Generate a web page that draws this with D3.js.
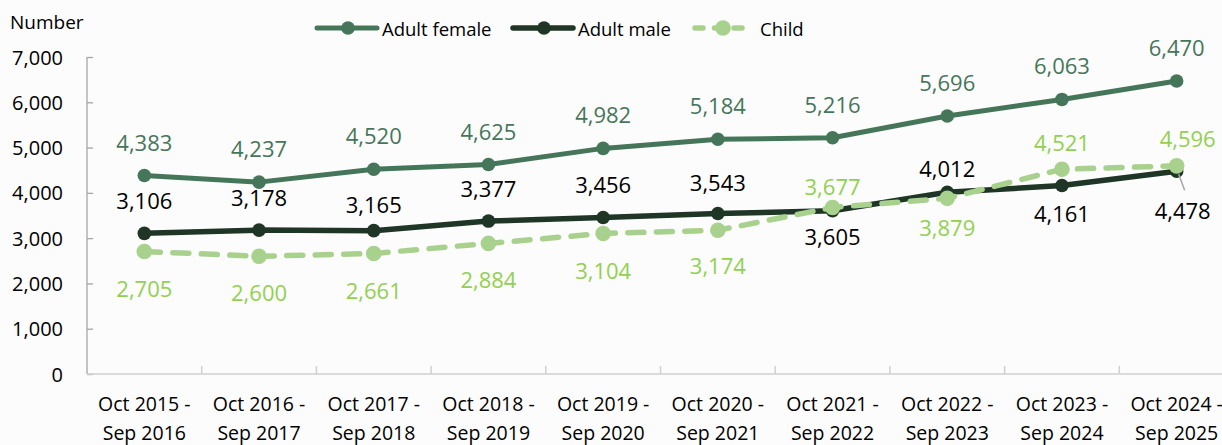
<!DOCTYPE html>
<html>
<head>
<meta charset="utf-8">
<script src="https://cdn.jsdelivr.net/npm/d3@7"></script>
<style>
  body { margin: 0; background: #fcfcfc; }
  svg { display: block; font-family: "Open Sans", sans-serif; }
</style>
</head>
<body>
<div id="chart"></div>
<script>
// data
var periods = ["Oct 2015 - Sep 2016", "Oct 2016 - Sep 2017", "Oct 2017 - Sep 2018",
    "Oct 2018 - Sep 2019", "Oct 2019 - Sep 2020", "Oct 2020 - Sep 2021",
    "Oct 2021 - Sep 2022", "Oct 2022 - Sep 2023", "Oct 2023 - Sep 2024",
    "Oct 2024 - Sep 2025"]
var adultFemale = [4383, 4237, 4520, 4625, 4982, 5184, 5216, 5696, 6063, 6470]
var adultMale = [3106, 3178, 3165, 3377, 3456, 3543, 3605, 4012, 4161, 4478]
var child = [2705, 2600, 2661, 2884, 3104, 3174, 3677, 3879, 4521, 4596]
var yTicks = [0, 1000, 2000, 3000, 4000, 5000, 6000, 7000]

// label placement (vertical offset of label centre from the point)
var femaleDy = [-34, -34, -34, -34, -34, -34, -34, -34, -34, -34]
var maleDy = [-33, -33, -27, -33, -33, -32, 25, -24, 27, 39]
var childDy = [36, 36, 37, 36, 37, 35, -21, 29, -27, -28]

var W = 1222, H = 445
var svg = d3.select("#chart").append("svg")
    .attr("width", W).attr("height", H)

var x = d3.scaleBand().domain(periods).range([87, 87 + 10 * 114.7])
var y = d3.scaleLinear().domain([0, 7000]).range([374, 57])
var cx = function (d, i) { return x(periods[i]) + x.bandwidth() / 2 }

// y axis
var yAxis = svg.append("g").attr("transform", "translate(87,0)")
    .call(d3.axisRight(y).tickValues(yTicks).tickSize(6).tickFormat(""))
yAxis.select(".domain").attr("stroke", "#a6a6a6").attr("stroke-width", 1.3)
    .attr("d", "M0," + y(7000) + "V" + y(0))
yAxis.selectAll(".tick line").attr("stroke", "#a6a6a6").attr("stroke-width", 1.3)

svg.append("g").selectAll("text").data(yTicks).enter().append("text")
    .attr("x", 63).attr("y", function (d) { return y(d) })
    .attr("text-anchor", "end").attr("dominant-baseline", "central")
    .attr("font-size", 20).attr("fill", "#000")
    .text(d3.format(","))

svg.append("text").attr("x", 10).attr("y", 22)
    .attr("dominant-baseline", "central")
    .attr("font-size", 19).attr("fill", "#000").text("Number")

// x axis
var xg = svg.append("g")
xg.append("line").attr("x1", 87).attr("x2", W).attr("y1", 374).attr("y2", 374)
    .attr("stroke", "#d0d0d0").attr("stroke-width", 1.5)
xg.selectAll(".tk").data(periods).enter().append("line")
    .attr("x1", function (d) { return x(d) + x.bandwidth() })
    .attr("x2", function (d) { return x(d) + x.bandwidth() })
    .attr("y1", 374).attr("y2", 366)
    .attr("stroke", "#d0d0d0").attr("stroke-width", 1.5)
var xl = xg.selectAll(".lab").data(periods).enter().append("text")
    .attr("text-anchor", "middle").attr("font-size", 19.5).attr("fill", "#000")
    .attr("transform", function (d) { return "translate(" + (x(d) + x.bandwidth() / 2) + ",0)" })
xl.append("tspan").attr("x", 0).attr("y", 411).text(function (d) { return d.split(" - ")[0] + " -" })
xl.append("tspan").attr("x", 0).attr("y", 440).text(function (d) { return d.split(" - ")[1] })

// series
var series = [
    { name: "Adult female", values: adultFemale, color: "#46765a", label: "#46765a", width: 5, r: 6.8, dash: null, dy: femaleDy },
    { name: "Adult male", values: adultMale, color: "#1f3526", label: "#000", width: 5.5, r: 6.8, dash: null, dy: maleDy },
    { name: "Child", values: child, color: "#a9d18e", label: "#92d050", width: 5.5, r: 7.8, dash: "16,12.5", dy: childDy }
]

var line = d3.line().x(cx).y(function (d) { return y(d) })

series.forEach(function (s) {
    var g = svg.append("g")
    g.append("path").datum(s.values).attr("d", line)
        .attr("fill", "none").attr("stroke", s.color).attr("stroke-width", s.width)
        .attr("stroke-linecap", "round").attr("stroke-linejoin", "round")
        .attr("stroke-dasharray", s.dash)
    g.selectAll("circle").data(s.values).enter().append("circle")
        .attr("cx", cx).attr("cy", function (d) { return y(d) })
        .attr("r", s.r).attr("fill", s.color)
})

// leader line for last male label
svg.append("line")
    .attr("x1", cx(0, 9) + 2).attr("y1", y(adultMale[9]) + 3)
    .attr("x2", cx(0, 9) + 8).attr("y2", y(adultMale[9]) + 19)
    .attr("stroke", "#a6a6a6").attr("stroke-width", 1.5)

var labelShift = { "Adult male": [0, 0, 0, 0, 0, 0, 0, 0, 0, 6], "Child": [0, 0, 0, 0, 0, 0, 0, 0, 0, 11] }
series.forEach(function (s) {
    svg.append("g").selectAll("text").data(s.values).enter().append("text")
        .attr("x", function (d, i) { return cx(d, i) + (labelShift[s.name] ? labelShift[s.name][i] : 0) })
        .attr("y", function (d, i) { return y(d) + s.dy[i] })
        .attr("text-anchor", "middle").attr("dominant-baseline", "central")
        .attr("font-size", 22).attr("fill", s.label)
        .text(d3.format(","))
})

// legend
var legendX = [317, 513, 695]
var leg = svg.append("g").selectAll("g").data(series).enter().append("g")
    .attr("transform", function (d, i) { return "translate(" + legendX[i] + ",28)" })
leg.append("line").attr("x1", 0).attr("x2", function (d, i) { return i == 2 ? 53 : 60 })
    .attr("stroke", function (d) { return d.color })
    .attr("stroke-width", function (d) { return d.width })
    .attr("stroke-linecap", "round")
    .attr("stroke-dasharray", function (d) { return d.dash ? "8,11.5" : null })
leg.append("circle").attr("cx", function (d, i) { return i == 2 ? 28 : 31 }).attr("r", function (d) { return d.r })
    .attr("fill", function (d) { return d.color })
leg.append("text").attr("x", function (d, i) { return i == 2 ? 65 : 65 })
    .attr("dominant-baseline", "central").attr("font-size", 18.5).attr("fill", "#000")
    .text(function (d) { return d.name })
</script>
</body>
</html>
